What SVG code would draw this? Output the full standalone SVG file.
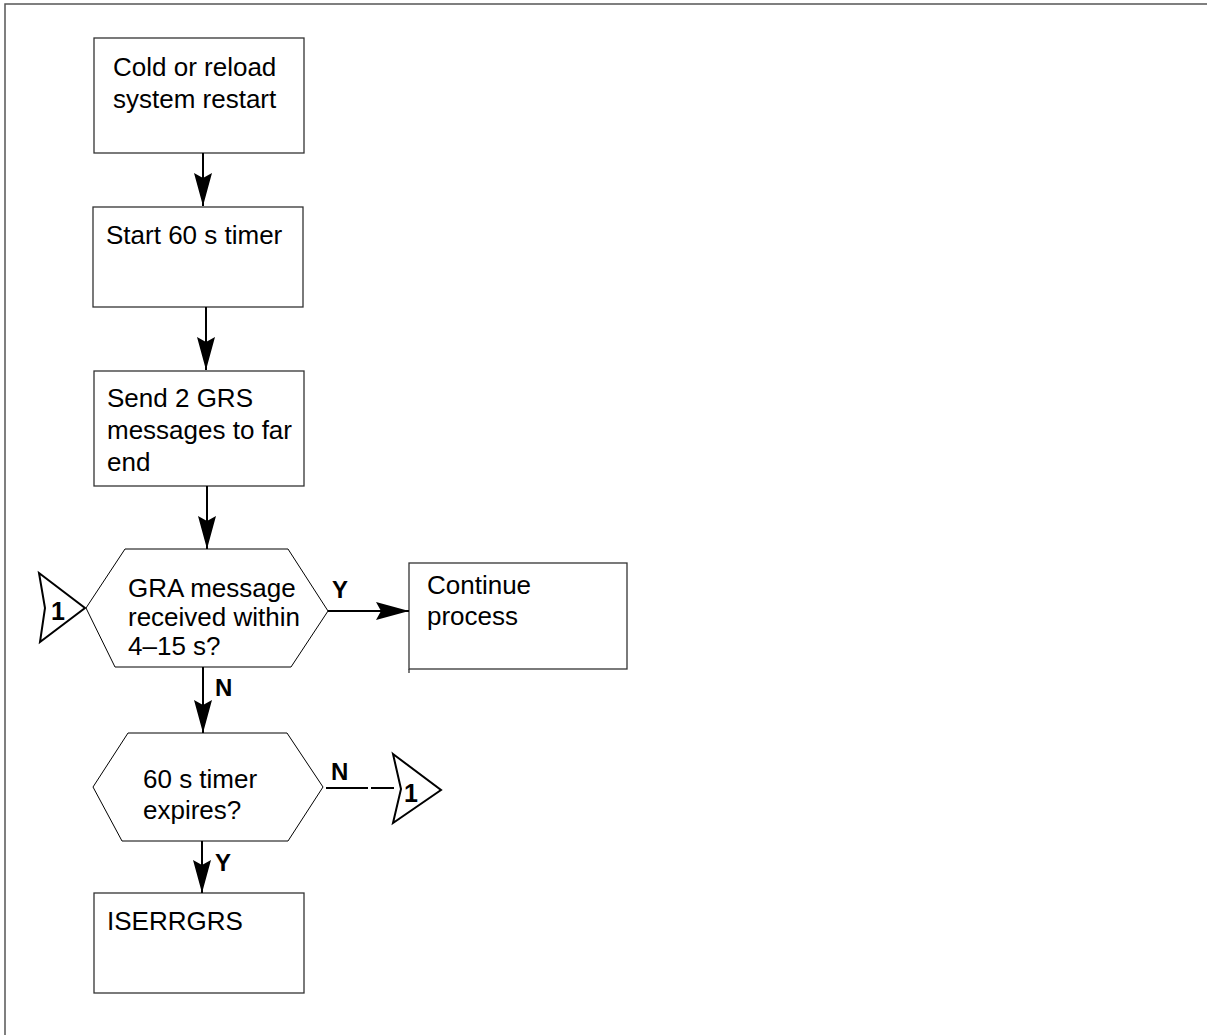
<svg xmlns="http://www.w3.org/2000/svg" width="1207" height="1035" viewBox="0 0 1207 1035">
<style>
.box{fill:#fff;stroke:#333;stroke-width:1.3}
.hex{fill:#fff;stroke:#000;stroke-width:1}
.conn{fill:#fff;stroke:#000;stroke-width:2;stroke-linejoin:miter}
.t{font-family:"Liberation Sans",Arial,sans-serif;font-size:26px;fill:#000}
.lb{font-family:"Liberation Sans",Arial,sans-serif;font-size:24px;font-weight:bold;fill:#000}
.one{font-family:"Liberation Sans",Arial,sans-serif;font-size:25px;font-weight:bold;fill:#000}
.ln{fill:none;stroke:#000;stroke-width:2}
</style>
<defs>
<marker id="ah" viewBox="0 0 33 18" refX="33" refY="9" markerWidth="33" markerHeight="18" markerUnits="userSpaceOnUse" orient="auto">
<path d="M0,0 L33,9 L0,18 L5,9 Z" fill="#000"/>
</marker>
</defs>
<rect width="1207" height="1035" fill="#fff"/>
<g id="frame">
<path d="M5,1035 V4 H1207" fill="none" stroke="#555" stroke-width="1.5"/>
</g>
<g id="n1">
<rect class="box" x="94" y="38" width="210" height="115"/>
<text class="t" x="113" y="76">Cold or reload</text>
<text class="t" x="113" y="108">system restart</text>
</g>
<g id="n2">
<rect class="box" x="93" y="207" width="210" height="100"/>
<text class="t" x="106" y="244">Start 60 s timer</text>
</g>
<g id="n3">
<rect class="box" x="94" y="371" width="210" height="115"/>
<text class="t" x="107" y="407">Send 2 GRS</text>
<text class="t" x="107" y="439">messages to far</text>
<text class="t" x="107" y="471">end</text>
</g>
<g id="n4">
<polygon class="hex" points="125,549 288,549 328,611 291,667 115,667 86,608"/>
<text class="t" x="128" y="597">GRA message</text>
<text class="t" x="128" y="626">received within</text>
<text class="t" x="128" y="655">4–15 s?</text>
</g>
<g id="n5">
<rect class="box" x="409" y="563" width="218" height="106"/>
<line x1="409" y1="669" x2="409" y2="673" stroke="#333" stroke-width="1.3"/>
<text class="t" x="427" y="594">Continue</text>
<text class="t" x="427" y="625">process</text>
</g>
<g id="n6">
<polygon class="hex" points="128,733 287,733 323,787 288,841 122,841 93,787"/>
<text class="t" x="143" y="788">60 s timer</text>
<text class="t" x="143" y="819">expires?</text>
</g>
<g id="n7">
<rect class="box" x="94" y="893" width="210" height="100"/>
<text class="t" x="107" y="930">ISERRGRS</text>
</g>
<g id="c1in">
<polygon class="conn" points="39,573 85,608 40,642 45,608"/>
<text class="one" x="51" y="620">1</text>
</g>
<g id="c1out">
<polygon class="conn" points="393,754 441,790 393,823 401,789"/>
<text class="one" x="404" y="802">1</text>
</g>
<g id="connectors">
<line class="ln" x1="203" y1="153" x2="203" y2="206" marker-end="url(#ah)"/>
<line class="ln" x1="206" y1="307" x2="206" y2="370" marker-end="url(#ah)"/>
<line class="ln" x1="207" y1="486" x2="207" y2="549" marker-end="url(#ah)"/>
<line class="ln" x1="328" y1="611" x2="409" y2="611" marker-end="url(#ah)"/>
<line class="ln" x1="203" y1="667" x2="203" y2="733" marker-end="url(#ah)"/>
<line class="ln" x1="326" y1="788" x2="368" y2="788"/>
<line class="ln" x1="371" y1="788" x2="394" y2="788"/>
<line class="ln" x1="202" y1="841" x2="202" y2="893" marker-end="url(#ah)"/>
<text class="lb" x="332" y="598">Y</text>
<text class="lb" x="215" y="696">N</text>
<text class="lb" x="331" y="780">N</text>
<text class="lb" x="215" y="871">Y</text>
</g>
</svg>
